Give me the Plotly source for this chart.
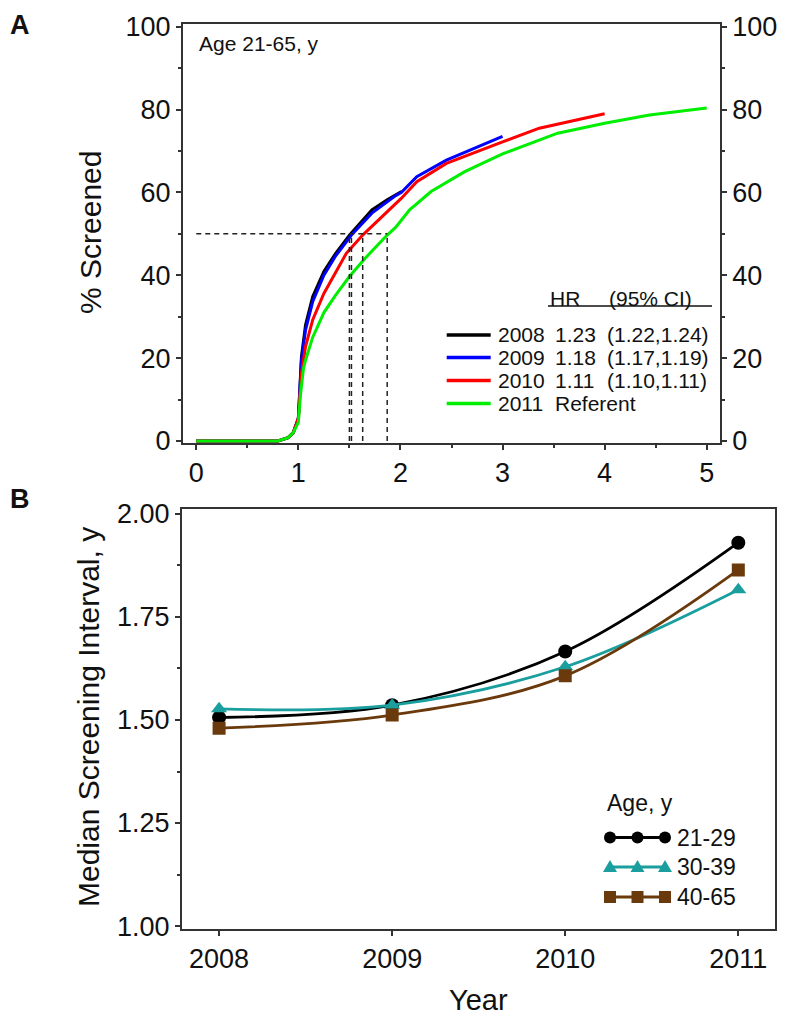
import plotly.graph_objects as go

W, H = 800, 1020
OFF = 8  # compensate for default page body margin
def PX(x): return (x - OFF) / W
def PY(y): return 1 - (y - OFF) / H

# ---------------- Panel A data ----------------
years_a = ["2008", "2009", "2010", "2011"]
hr_text = ["1.23", "1.18", "1.11", "Referent"]
ci_text = ["(1.22,1.24)", "(1.17,1.19)", "(1.10,1.11)", ""]
colors_a = ["#000000", "#0000FF", "#FF0000", "#00EE00"]

x_2008 = [0, 0.8, 0.9, 0.95, 1.0, 1.03, 1.07, 1.14, 1.25, 1.36, 1.50, 1.72, 1.87, 2.01]
y_2008 = [0, 0, 0.8, 2, 5.5, 20.3, 28, 34.8, 40.9, 45.1, 49.7, 55.8, 58.2, 60.2]
x_2009 = [0, 0.8, 0.9, 0.95, 1.0, 1.03, 1.07, 1.14, 1.25, 1.36, 1.52, 1.72, 1.94, 2.01, 2.16, 2.45, 3.0]
y_2009 = [0, 0, 0.8, 2, 5.5, 19.5, 26.8, 33.6, 40, 44.5, 49.7, 55, 59, 60, 63.8, 67.8, 73.5]
x_2010 = [0, 0.8, 0.9, 0.95, 1.0, 1.03, 1.07, 1.14, 1.25, 1.36, 1.47, 1.63, 1.8, 2.01, 2.16, 2.45, 3.0, 3.36, 4.0]
y_2010 = [0, 0, 0.8, 2, 5.5, 16.3, 22.8, 29.2, 35.6, 40.5, 45.3, 49.7, 53.7, 58.6, 62.6, 67, 72.2, 75.5, 79]
x_2011 = [0, 0.8, 0.9, 0.95, 1.0, 1.02, 1.05, 1.07, 1.14, 1.25, 1.36, 1.5, 1.65, 1.87, 1.95, 2.01, 2.09, 2.3, 2.63, 3.0, 3.54, 4.0, 4.44, 5.0]
y_2011 = [0, 0, 0.8, 2, 4.5, 11, 17.5, 19.5, 25, 31, 35, 39.7, 44, 49.7, 51.5, 53.3, 55.8, 60.2, 65, 69.3, 74.3, 76.7, 78.7, 80.4]
medians = [1.50, 1.52, 1.63, 1.87]
median_level = 50

# ---------------- Panel B data ----------------
years_b = [2008, 2009, 2010, 2011]
age_groups = ["21-29", "30-39", "40-65"]
val_21_29 = [1.506, 1.536, 1.666, 1.930]
val_30_39 = [1.527, 1.536, 1.629, 1.816]
val_40_65 = [1.480, 1.512, 1.607, 1.864]
colors_b = ["#000000", "#1A9E9E", "#6B3A0C"]
symbols_b = ["circle", "triangle-up", "square"]
ytick_b = [1.00, 1.25, 1.50, 1.75, 2.00]

FONT = "Arial"
AX = "#333333"

fig = go.Figure()

curves = [(x_2008, y_2008), (x_2009, y_2009), (x_2010, y_2010), (x_2011, y_2011)]
for (xs, ys), c, yr in zip(curves, colors_a, years_a):
    fig.add_trace(go.Scatter(x=xs, y=ys, mode="lines", line=dict(color=c, width=3),
                             name=yr, showlegend=False, xaxis="x", yaxis="y"))

for m in medians:
    fig.add_trace(go.Scatter(x=[m, m], y=[0, median_level], mode="lines",
                             line=dict(color="#222222", width=1.5, dash="5px,4px"),
                             showlegend=False, hoverinfo="skip", xaxis="x", yaxis="y"))
fig.add_trace(go.Scatter(x=[0, max(medians)], y=[median_level, median_level], mode="lines",
                         line=dict(color="#222222", width=1.5, dash="5px,4px"),
                         showlegend=False, hoverinfo="skip", xaxis="x", yaxis="y"))
fig.add_trace(go.Scatter(x=x_2011, y=y_2011, mode="lines", line=dict(width=0, color="rgba(0,0,0,0)"),
                         showlegend=False, hoverinfo="skip", xaxis="x", yaxis="y3"))

for vals, c, s, g in zip([val_21_29, val_30_39, val_40_65], colors_b, symbols_b, age_groups):
    fig.add_trace(go.Scatter(x=years_b, y=vals, mode="lines+markers",
                             line=dict(color=c, width=2.8, shape="spline", smoothing=1),
                             marker=dict(symbol=s, size=14 if s != "square" else 13, color=c),
                             name=g, showlegend=False, xaxis="x2", yaxis="y2"))

tick_common = dict(ticks="outside", ticklen=5, tickwidth=1.5, tickcolor=AX, showline=True,
                   linecolor=AX, linewidth=1.5, showgrid=False, zeroline=False, automargin=False,
                   tickfont=dict(family=FONT, size=27, color="#111111"))

fig.update_layout(
    template="none",
    width=W, height=H, margin=dict(l=0, r=0, t=0, b=0, pad=0),
    paper_bgcolor="white", plot_bgcolor="white",
    xaxis=dict(domain=[PX(182.6), PX(720)], range=[-0.134, 5.13], anchor="y",
               tickvals=[0, 1, 2, 3, 4, 5], mirror=True,
               minor=dict(dtick=0.5, ticks="outside", ticklen=3, tickcolor=AX), **tick_common),
    yaxis=dict(domain=[PY(443.3), PY(24)], range=[-0.56, 100.65], anchor="x",
               tickvals=[0, 20, 40, 60, 80, 100], mirror=True,
               minor=dict(dtick=10, ticks="outside", ticklen=3, tickcolor=AX), **tick_common),
    yaxis3=dict(overlaying="y", side="right", anchor="x", range=[-0.56, 100.65],
                tickvals=[0, 20, 40, 60, 80, 100],
                minor=dict(dtick=10, ticks="outside", ticklen=3, tickcolor=AX), **tick_common),
    xaxis2=dict(domain=[PX(181.7), PX(775)], range=[2007.784, 2011.212], anchor="y2",
                tickvals=years_b, ticktext=[str(y) for y in years_b], mirror=True, **tick_common),
    yaxis2=dict(domain=[PY(929), PY(509.3)], range=[0.993, 2.011], anchor="x2",
                tickvals=ytick_b, ticktext=[f"{v:.2f}" for v in ytick_b], mirror=True,
                minor=dict(dtick=0.125, ticks="outside", ticklen=3, tickcolor=AX), **tick_common),
)

ann = []
shapes = []
def txt(x, y, s, size=21, xanchor="left", bold=False, angle=0, yanchor="middle", yp=None):
    ann.append(dict(x=PX(x), y=PY(y) if yp is None else yp, xref="paper", yref="paper",
                    text=f"<b>{s}</b>" if bold else s,
                    showarrow=False, xanchor=xanchor, yanchor=yanchor, textangle=angle,
                    font=dict(family=FONT, size=size, color="#111111")))

txt(20, 0, "A", size=27, xanchor="center", bold=True, yanchor="top", yp=1.0)
txt(20, 499, "B", size=27, xanchor="center", bold=True)
txt(90, 233, "% Screened", size=30, xanchor="center", angle=-90)
txt(88, 717, "Median Screening Interval, y", size=30, xanchor="center", angle=-90)
txt(478, 1000, "Year", size=29, xanchor="center")
txt(197, 44, "Age 21-65, y", size=21)

txt(548, 298, "HR", size=21)
txt(607, 298, "(95% CI)", size=21)
shapes.append(dict(type="line", xref="paper", yref="paper", x0=PX(548), x1=PX(712), y0=PY(306), y1=PY(306),
                   line=dict(color="#111111", width=1.5)))
rows_a = [335, 357.5, 380.5, 403.5]
for yy, yr, hr, ci, c in zip(rows_a, years_a, hr_text, ci_text, colors_a):
    shapes.append(dict(type="line", xref="paper", yref="paper", x0=PX(446.7), x1=PX(490.7),
                       y0=PY(yy), y1=PY(yy), line=dict(color=c, width=3.5)))
    txt(496, yy, yr)
    txt(553, yy, hr)
    if ci:
        txt(605, yy, ci)

txt(605, 803, "Age, y", size=23)
rows_b = [837.5, 867, 897]
for yy, g, c, s in zip(rows_b, age_groups, colors_b, symbols_b):
    shapes.append(dict(type="line", xref="paper", yref="paper", x0=PX(610), x1=PX(665),
                       y0=PY(yy), y1=PY(yy), line=dict(color=c, width=2.8)))
    for mx in [610, 637.5, 665]:
        r = 6
        if s == "circle":
            shapes.append(dict(type="circle", xref="paper", yref="paper", x0=PX(mx - r), x1=PX(mx + r),
                               y0=PY(yy + r), y1=PY(yy - r), fillcolor=c, line=dict(color=c, width=0)))
        elif s == "square":
            shapes.append(dict(type="rect", xref="paper", yref="paper", x0=PX(mx - r), x1=PX(mx + r),
                               y0=PY(yy + r), y1=PY(yy - r), fillcolor=c, line=dict(color=c, width=0)))
        else:
            path = (f"M {PX(mx - 7)},{PY(yy + 5)} L {PX(mx + 7)},{PY(yy + 5)} "
                    f"L {PX(mx)},{PY(yy - 7)} Z")
            shapes.append(dict(type="path", xref="paper", yref="paper", path=path,
                               fillcolor=c, line=dict(color=c, width=0)))
    txt(675, yy, g, size=23)

fig.update_layout(annotations=ann, shapes=shapes)
fig.write_html("out.html")
